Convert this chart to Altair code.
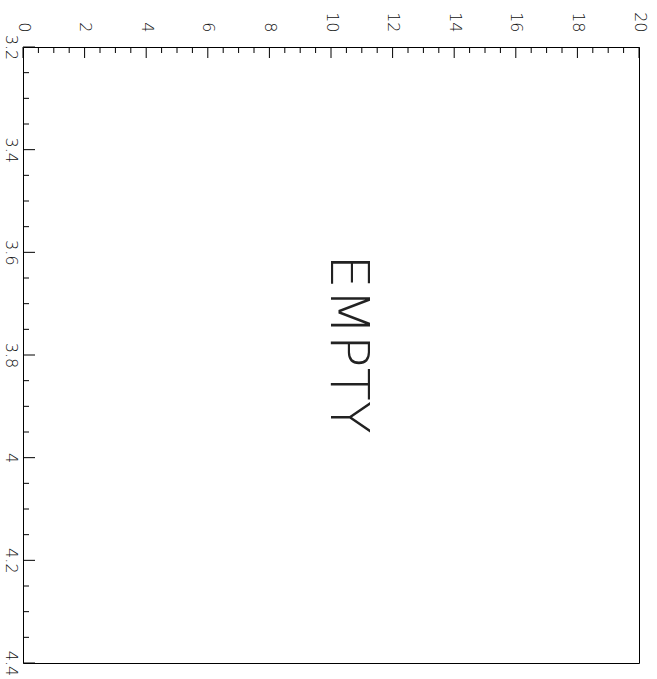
import altair as alt
import pandas as pd

# Tick positions along the horizontal (top) axis
x_major = [0, 2, 4, 6, 8, 10, 12, 14, 16, 18, 20]
x_minor = [0.5, 1, 1.5, 2.5, 3, 3.5, 4.5, 5, 5.5, 6.5, 7, 7.5, 8.5, 9, 9.5,
           10.5, 11, 11.5, 12.5, 13, 13.5, 14.5, 15, 15.5, 16.5, 17, 17.5,
           18.5, 19, 19.5]

# Tick positions along the vertical (left) axis
y_major = [3.2, 3.4, 3.6, 3.8, 4.0, 4.2, 4.4]
y_minor = [3.25, 3.3, 3.35, 3.45, 3.5, 3.55, 3.65, 3.7, 3.75, 3.85, 3.9, 3.95,
           4.05, 4.1, 4.15, 4.25, 4.3, 4.35]

# Placeholder message shown in the middle of the frame
message = ["EMPTY"]
message_x = [10]
message_y = [3.8]

FONT = "DejaVu Sans"
INK = "#111111"

x_scale = alt.Scale(domain=[0, 20], nice=False, zero=False)
y_scale = alt.Scale(domain=[3.2, 4.4], nice=False, zero=False, reverse=True)

x_axis = alt.Axis(
    orient="top", values=x_major, ticks=False, tickSize=0, domain=False,
    grid=False, labelAngle=90, labelAlign="right", labelBaseline="middle",
    labelPadding=15, labelFont=FONT, labelFontWeight=200, labelFontSize=16,
    labelColor=INK, labelFlush=False, labelOverlap=False, title=None,
)
y_axis = alt.Axis(
    orient="left", values=y_major, ticks=False, tickSize=0, domain=False,
    grid=False, labelAngle=90, labelAlign="center", labelBaseline="top",
    labelPadding=5, labelFont=FONT, labelFontWeight=200, labelFontSize=16,
    labelColor=INK, labelFlush=False, labelOverlap=False, title=None,
    labelExpr="format(datum.value, '~g')",
)

X = alt.X("x:Q", scale=x_scale, axis=x_axis)
Y = alt.Y("y:Q", scale=y_scale, axis=y_axis)

top_major = alt.Chart(pd.DataFrame({"x": x_major})).mark_rule(
    color="black", strokeWidth=1
).encode(x=X, y=alt.value(0), y2=alt.value(11))

top_minor = alt.Chart(pd.DataFrame({"x": x_minor})).mark_rule(
    color="black", strokeWidth=1
).encode(x=X, y=alt.value(0), y2=alt.value(6))

left_major = alt.Chart(pd.DataFrame({"y": y_major})).mark_rule(
    color="black", strokeWidth=1
).encode(y=Y, x=alt.value(0), x2=alt.value(12))

left_minor = alt.Chart(pd.DataFrame({"y": y_minor})).mark_rule(
    color="black", strokeWidth=1
).encode(y=Y, x=alt.value(0), x2=alt.value(6))

label = alt.Chart(
    pd.DataFrame({"x": message_x, "y": message_y, "text": message})
).mark_text(
    angle=90, align="center", baseline="alphabetic", font=FONT,
    fontWeight=200, fontSize=54, color="#222222", dx=-11,
).encode(x=X, y=Y, text="text:N")

chart = alt.layer(top_minor, top_major, left_minor, left_major, label).properties(
    width=616, height=616,
    autosize=alt.AutoSizeParams(type="none"),
    padding={"left": 23, "top": 47, "right": 18, "bottom": 16},
    background="white",
).configure_view(stroke="black", strokeWidth=1)

chart.save("out.html", embed_options={"renderer": "svg", "actions": False})
